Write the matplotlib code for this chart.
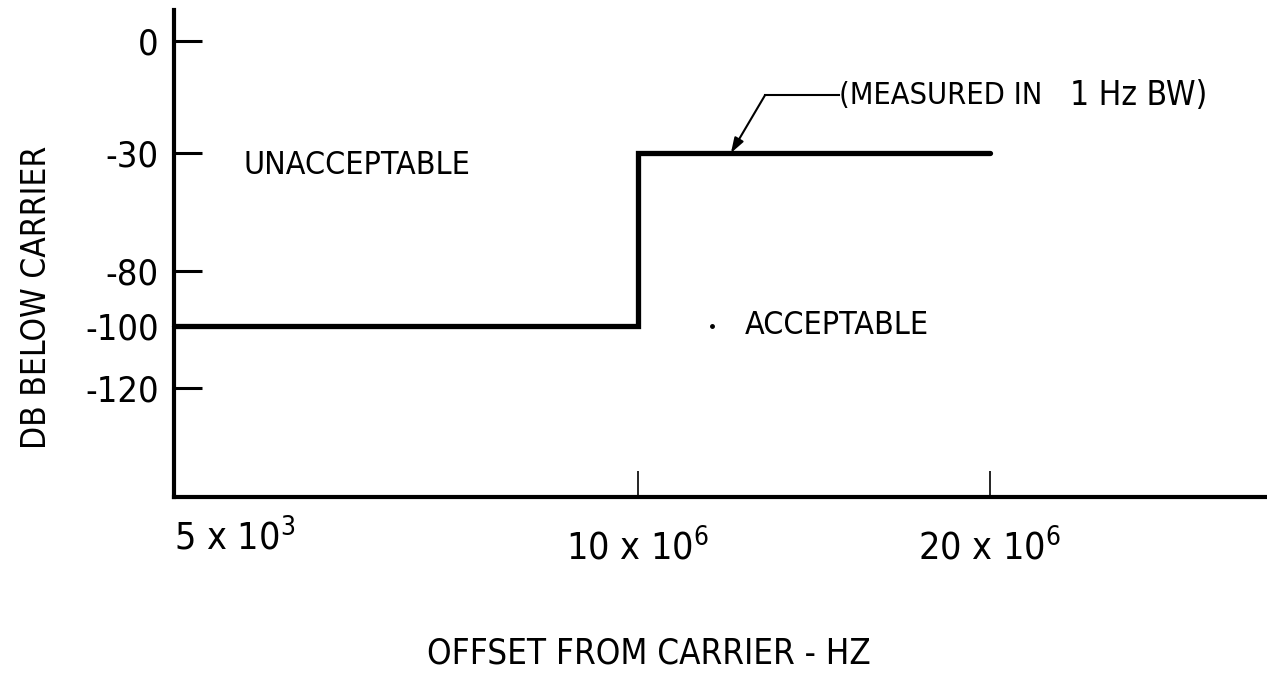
import numpy as np
import matplotlib
matplotlib.use('Agg')
import matplotlib.pyplot as plt

# узкий шрифт, похожий на чертёжный
plt.rcParams['font.family'] = ['DejaVu Sans']
plt.rcParams['font.stretch'] = 'condensed'
plt.rcParams['mathtext.fontset'] = 'custom'
plt.rcParams['mathtext.rm'] = 'DejaVu Sans:stretch=condensed'

# данные
offset_hz = [5e3, 10e6, 20e6]
level_db = [-100, -30, -30]
xtick_vals = [5e3, 10e6, 20e6]
xtick_labels = [r'5 x 10$^{\mathrm{3}}$', r'10 x 10$^{\mathrm{6}}$', r'20 x 10$^{\mathrm{6}}$']
ytick_vals = [0, -30, -80, -100, -120]
ytick_labels = ['0', '-30', '-80', '-100', '-120']

# шкалы на рисунке не линейные - задаём кусочно-линейное отображение
x_anchor = [5e3, 10e6, 20e6, 27.9e6]
x_pos = [0, 464, 816, 1093]
y_anchor = [-157, -120, -100, -80, -30, 0, 8.4]
y_pos = [0, 109, 171, 226, 344, 456, 487]


def fx(v):
    return np.interp(v, x_anchor, x_pos)


def fx_inv(p):
    return np.interp(p, x_pos, x_anchor)


def fy(v):
    return np.interp(v, y_anchor, y_pos)


def fy_inv(p):
    return np.interp(p, y_pos, y_anchor)


fig = plt.figure(figsize=(12.67, 6.8), dpi=100)
ax = fig.add_axes([174 / 1267, 1 - 497 / 680, 1 - 174 / 1267, 487 / 680])
ax.set_xscale('function', functions=(fx, fx_inv))
ax.set_yscale('function', functions=(fy, fy_inv))
ax.set_xlim(5e3, 27.9e6)
ax.set_ylim(-157, 8.4)

for s in ['top', 'right']:
    ax.spines[s].set_visible(False)
for s in ['left', 'bottom']:
    ax.spines[s].set_linewidth(3)
    ax.spines[s].set_capstyle('projecting')

# граница допустимого уровня
ax.plot(offset_hz, level_db, drawstyle='steps-post', color='black', lw=3.8,
        solid_capstyle='round', solid_joinstyle='miter', clip_on=False)

ax.set_yticks(ytick_vals)
ax.set_yticklabels(ytick_labels)
ax.tick_params(axis='y', direction='in', length=20, width=2.2, pad=11, labelsize=26)
ax.minorticks_off()

ax.set_xticks(xtick_vals)
ax.set_xticklabels([])
ax.tick_params(axis='x', direction='in', length=19, width=1.2)
xt = ax.get_xaxis_transform()
ax.text(xtick_vals[0], -0.085, xtick_labels[0], transform=xt, ha='left', va='center',
        fontsize=27)
for v, lab in zip(xtick_vals[1:], xtick_labels[1:]):
    ax.text(v, -0.106, lab, transform=xt, ha='center', va='center', fontsize=27)

# надписи областей
ax.text(1.5e6, -35.5, 'UNACCEPTABLE', fontsize=23, ha='left', va='center')
ax.text(13.04e6, -100, 'ACCEPTABLE', fontsize=23, ha='left', va='center')
ax.plot([12.1e6], [-100], 'o', color='black', ms=2.5)

# выноска
ax.annotate('', xy=(12.64e6, -30), xytext=(13.61e6, -14.5),
            arrowprops=dict(arrowstyle='-|>,head_length=0.9,head_width=0.3',
                            color='black', lw=1.5, shrinkA=0, shrinkB=0))
ax.plot([13.61e6, 15.71e6], [-14.5, -14.5], color='black', lw=1.5)
t1 = ax.text(15.71e6, -14.5, '(MEASURED IN', fontsize=22, ha='left', va='center')
ax.annotate('1 Hz BW)', xy=(1, 0.5), xycoords=t1, xytext=(20, 0),
            textcoords='offset points', fontsize=24, ha='left', va='center')

fig.text(649 / 1267, 1 - 654 / 680, 'OFFSET FROM CARRIER - HZ', fontsize=25,
         ha='center', va='center')
fig.text(37 / 1267, 1 - 297 / 680, 'DB BELOW CARRIER', fontsize=24,
         rotation=90, ha='center', va='center')

fig.savefig('out.png', dpi=100)
